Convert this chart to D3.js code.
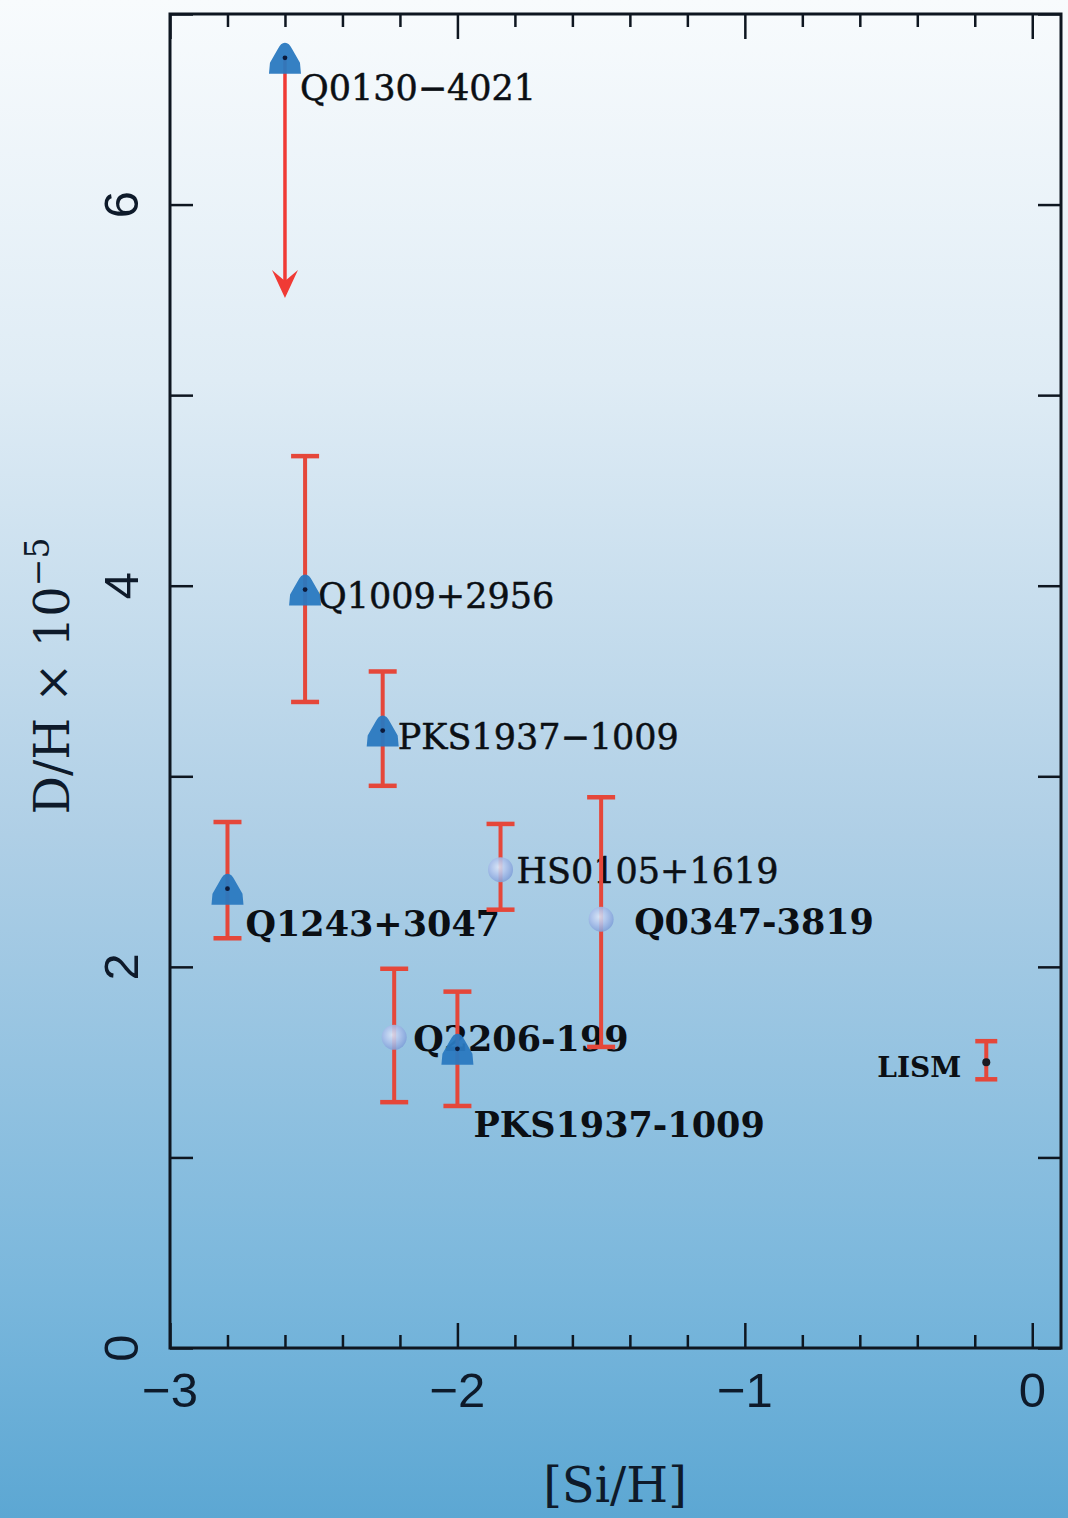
<!DOCTYPE html>
<html>
<head>
<meta charset="utf-8">
<script src="https://cdn.jsdelivr.net/npm/d3@7"></script>
<style>
  html, body { margin: 0; padding: 0; background: #fff; }
  svg { display: block; }
</style>
</head>
<body>
<svg id="chart" width="1068" height="1518"></svg>
<script>
// ---------------- DATA ----------------
const names      = ["Q0130\u22124021", "Q1009+2956", "PKS1937\u22121009", "Q1243+3047", "HS0105+1619", "Q0347-3819", "Q2206-199", "PKS1937-1009", "LISM"];
const siH        = [-2.60, -2.53, -2.26, -2.80, -1.85, -1.50, -2.22, -2.00, -0.16];
const dH         = [6.77, 3.98, 3.24, 2.41, 2.51, 2.25, 1.63, 1.57, 1.50];
const errHigh    = [null, 4.68, 3.55, 2.76, 2.75, 2.89, 1.99, 1.87, 1.61];
const errLow     = [5.51, 3.39, 2.95, 2.15, 2.30, 1.58, 1.29, 1.27, 1.41];
const markerType = ["triangle", "triangle", "triangle", "triangle", "circle", "circle", "circle", "triangle", "dot"];
const isUpperLimit = [true, false, false, false, false, false, false, false, false];

const xTickLabels = [-3, -2, -1, 0];
const xMinorTicks = [-2.8, -2.6, -2.4, -2.2, -1.8, -1.6, -1.4, -1.2, -0.8, -0.6, -0.4, -0.2];
const yTickLabels = [0, 2, 4, 6];
const yAllTicks   = [0, 1, 2, 3, 4, 5, 6, 7];
const xTitle = "[Si/H]";

// ---------------- LAYOUT / STYLE ----------------
const labelStyle = ["reg", "reg", "reg", "bold", "reg", "bold", "bold", "bold", "small"];
const labelDx = [15, 13, 15, 18, 16, 33, 19, 16, -25];
const labelDy = [42, 18, 18, 47, 13, 15, 14, 88, 15];

const W = 1068, H = 1518;
const L = 170, R = 1061, T = 14, B = 1348;
const x = d3.scaleLinear().domain([-3, 0.1]).range([L, R]);
const y = d3.scaleLinear().domain([0, 7]).range([B, T]);

const svg = d3.select("#chart");
const defs = svg.append("defs");

const bg = defs.append("linearGradient").attr("id", "bg").attr("x1", 0).attr("y1", 0).attr("x2", 0).attr("y2", 1);
[[0, "#f8fbfd"], [0.25, "#dfecf5"], [0.55, "#afcfe6"], [0.85, "#7ab7dc"], [1, "#5ca7d3"]]
  .forEach(([o, c]) => bg.append("stop").attr("offset", o).attr("stop-color", c));

const sph = defs.append("radialGradient").attr("id", "sphere").attr("cx", "0.42").attr("cy", "0.4").attr("r", "0.62");
[[0, "#dde7f8"], [0.5, "#afc3ec"], [1, "#7f9fd8"]]
  .forEach(([o, c]) => sph.append("stop").attr("offset", o).attr("stop-color", c));

svg.append("rect").attr("width", W).attr("height", H).attr("fill", "url(#bg)");

const axisColor = "#0e1620";

// ---------------- AXES (ticks inward) ----------------
function styleAxis(g) {
  g.select(".domain").remove();
  g.selectAll(".tick line").attr("stroke", axisColor).attr("stroke-width", 2.5);
  g.selectAll(".tick text").remove();
}
svg.append("g").attr("transform", `translate(0,${B})`)
  .call(d3.axisBottom(x).tickValues(xMinorTicks).tickSize(-13)).call(styleAxis);
svg.append("g").attr("transform", `translate(0,${B})`)
  .call(d3.axisBottom(x).tickValues(xTickLabels).tickSize(-25)).call(styleAxis);
svg.append("g").attr("transform", `translate(0,${T})`)
  .call(d3.axisTop(x).tickValues(xMinorTicks).tickSize(-13)).call(styleAxis);
svg.append("g").attr("transform", `translate(0,${T})`)
  .call(d3.axisTop(x).tickValues(xTickLabels).tickSize(-25)).call(styleAxis);
svg.append("g").attr("transform", `translate(${L},0)`)
  .call(d3.axisLeft(y).tickValues(yAllTicks).tickSize(-23)).call(styleAxis);
svg.append("g").attr("transform", `translate(${R},0)`)
  .call(d3.axisRight(y).tickValues(yAllTicks).tickSize(-23)).call(styleAxis);

// frame
svg.append("rect").attr("x", L).attr("y", T).attr("width", R - L).attr("height", B - T)
  .attr("fill", "none").attr("stroke", axisColor).attr("stroke-width", 3);

// tick labels
const fmt = d => d < 0 ? "\u2212" + Math.abs(d) : String(d);
svg.append("g").selectAll("text").data(xTickLabels).join("text")
  .attr("x", d => x(d)).attr("y", 1407)
  .attr("text-anchor", "middle")
  .attr("font-family", "'Liberation Sans', Arial, sans-serif")
  .attr("font-size", 49).attr("fill", "#0e1a2a")
  .text(fmt);
svg.append("g").selectAll("text").data(yTickLabels).join("text")
  .attr("transform", d => `translate(138,${y(d)}) rotate(-90)`)
  .attr("text-anchor", "middle")
  .attr("font-family", "'Liberation Sans', Arial, sans-serif")
  .attr("font-size", 49).attr("fill", "#0e1a2a")
  .text(fmt);

// axis titles
svg.append("text").attr("x", 615).attr("y", 1502).attr("text-anchor", "middle")
  .attr("font-family", "'DejaVu Serif', serif").attr("font-size", 48).attr("fill", "#0e1a2a")
  .text(xTitle);
const yt = svg.append("text").attr("transform", "translate(69,676) rotate(-90)").attr("text-anchor", "middle")
  .attr("font-family", "'DejaVu Serif', serif").attr("font-size", 48).attr("fill", "#0e1a2a");
yt.append("tspan").text("D/H \u00d7 10");
yt.append("tspan").attr("dy", -20).attr("font-size", 33).text("\u22125");

// ---------------- DATA LAYERS ----------------
const data = names.map((n, i) => ({
  name: n, sx: siH[i], dy: dH[i], hi: errHigh[i], lo: errLow[i],
  type: markerType[i], limit: isUpperLimit[i],
  ls: labelStyle[i], ldx: labelDx[i], ldy: labelDy[i]
}));

// labels (drawn underneath bars & markers, as in reference)
const fontFor = s => s === "reg" ? { w: 400, sz: 35 } : s === "bold" ? { w: 700, sz: 35 } : { w: 700, sz: 28 };
svg.append("g").selectAll("text").data(data).join("text")
  .attr("x", d => x(d.sx) + d.ldx).attr("y", d => y(d.dy) + d.ldy)
  .attr("text-anchor", d => d.ldx < 0 ? "end" : "start")
  .attr("font-family", "'DejaVu Serif', serif")
  .attr("font-weight", d => fontFor(d.ls).w)
  .attr("font-size", d => fontFor(d.ls).sz)
  .attr("fill", "#0b0f14")
  .attr("stroke", d => d.ls === "reg" ? "#0b0f14" : "none").attr("stroke-width", 0.5)
  .text(d => d.name);

const red = "#e5473a";
const capW = d => d.type === "dot" ? 22 : 28;
const bars = svg.append("g").selectAll("g").data(data.filter(d => !d.limit)).join("g");
bars.append("line").attr("x1", d => x(d.sx)).attr("x2", d => x(d.sx))
  .attr("y1", d => y(d.hi)).attr("y2", d => y(d.lo))
  .attr("stroke", red).attr("stroke-width", 4);
bars.append("line").attr("x1", d => x(d.sx) - capW(d) / 2).attr("x2", d => x(d.sx) + capW(d) / 2)
  .attr("y1", d => y(d.hi)).attr("y2", d => y(d.hi))
  .attr("stroke", red).attr("stroke-width", 4.5);
bars.append("line").attr("x1", d => x(d.sx) - capW(d) / 2).attr("x2", d => x(d.sx) + capW(d) / 2)
  .attr("y1", d => y(d.lo)).attr("y2", d => y(d.lo))
  .attr("stroke", red).attr("stroke-width", 4.5);

// upper-limit arrow
const lim = svg.append("g").selectAll("g").data(data.filter(d => d.limit)).join("g");
lim.append("line").attr("x1", d => x(d.sx)).attr("x2", d => x(d.sx))
  .attr("y1", d => y(d.dy)).attr("y2", d => y(d.lo) - 4)
  .attr("stroke", "#f03a35").attr("stroke-width", 3.5);
lim.append("path")
  .attr("d", d => { const cx = x(d.sx), ty = y(d.lo); return `M${cx - 13},${ty - 28} L${cx},${ty} L${cx + 13},${ty - 28} L${cx},${ty - 17} Z`; })
  .attr("fill", "#f03a35");

// markers
const markers = svg.append("g").selectAll("g").data(data).join("g")
  .attr("transform", d => `translate(${x(d.sx)},${y(d.dy)})`);
markers.filter(d => d.type === "triangle").append("path")
  .attr("d", "M0,-15 C3,-15 5,-13 7,-9 L15,5 L16,16 L-16,16 L-15,5 L-7,-9 C-5,-13 -3,-15 0,-15 Z")
  .attr("fill", "#2a79c0").attr("fill-opacity", 0.95);
markers.filter(d => d.type === "triangle").append("circle").attr("r", 2.4).attr("fill", "#0c1a3a");
markers.filter(d => d.type === "circle").append("circle").attr("r", 12.5)
  .attr("fill", "url(#sphere)").attr("fill-opacity", 0.88);
markers.filter(d => d.type === "dot").append("circle").attr("r", 4).attr("fill", "#1a1a22");
</script>
</body>
</html>
